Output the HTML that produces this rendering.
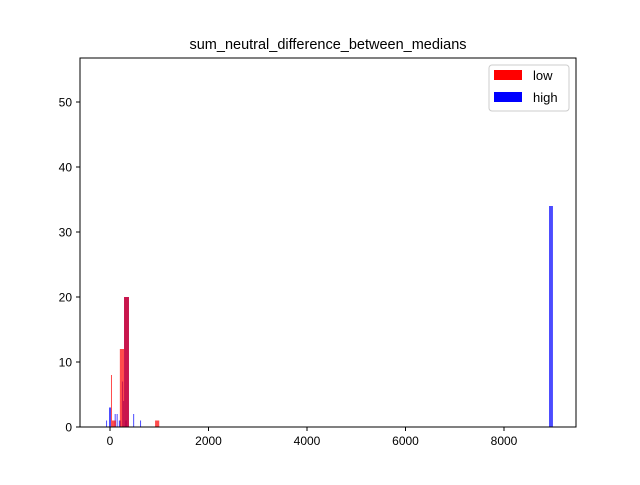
<!DOCTYPE html>
<html><head><meta charset="utf-8"><style>body{margin:0;background:#fff}svg{font-family:"Liberation Sans","DejaVu Sans",sans-serif}</style></head>
<body>
<svg id="c" width="640" height="480">
<rect width="640" height="480" fill="#fff"/>
<text x="328" y="49" text-anchor="middle" font-size="14.5">sum_neutral_difference_between_medians</text>
<g id="bars"></g>
<rect x="80" y="58" width="496" height="369" fill="none" stroke="#000" stroke-width="1"/>
<g id="axes"></g>
<g>
<rect x="489" y="65" width="80" height="46" rx="3" fill="#fff" stroke="#ccc"/>
<rect x="494" y="70" width="28" height="10" fill="#ff0000"/>
<text x="533" y="80" font-size="13">low</text>
<rect x="494" y="92" width="28" height="10" fill="#0000ff"/>
<text x="533" y="102" font-size="13">high</text>
</g>
</svg>
<script>
const lowX=[20,40,200,285,915];
const lowW=[20,80,85,100,85];
const lowCounts=[8,1,12,20,1];
const highX=[-80,-20,95,135,180,245,265,285,305,470,610,8914];
const highW=[20,40,20,20,40,20,20,100,40,20,20,80];
const highCounts=[1,3,2,2,1,7,4,20,1,2,1,34];
const xTicks=[0,2000,4000,6000,8000];
const yTicks=[0,10,20,30,40,50];
const X=v=>110+v*0.04925;
const Y=v=>427-v*6.5;
const ns="http://www.w3.org/2000/svg";
const bars=document.getElementById('bars'),axes=document.getElementById('axes');
function mk(t,a,p){const e=document.createElementNS(ns,t);for(const k in a)e.setAttribute(k,a[k]);p.appendChild(e);return e;}
highX.forEach((x,i)=>{const e=mk('rect',{x:X(x),y:Y(highCounts[i]),width:Math.max(1,X(x+highW[i])-X(x)),height:427-Y(highCounts[i]),fill:'#0000ff','fill-opacity':0.7},bars);

});
lowX.forEach((x,i)=>{const e=mk('rect',{x:X(x),y:Y(lowCounts[i]),width:Math.max(1,X(x+lowW[i])-X(x)),height:427-Y(lowCounts[i]),fill:'#ff0000','fill-opacity':0.7},bars);

});
xTicks.forEach(t=>{mk('line',{x1:X(t),x2:X(t),y1:427,y2:431,stroke:'#000'},axes);
const e=mk('text',{x:X(t),y:445,'text-anchor':'middle','font-size':12},axes);e.textContent=t;

});
yTicks.forEach(t=>{mk('line',{x1:76,x2:80,y1:Y(t),y2:Y(t),stroke:'#000'},axes);
const e=mk('text',{x:72,y:Y(t)+4.5,'text-anchor':'end','font-size':12},axes);e.textContent=t;

});
</script>
</body></html>
